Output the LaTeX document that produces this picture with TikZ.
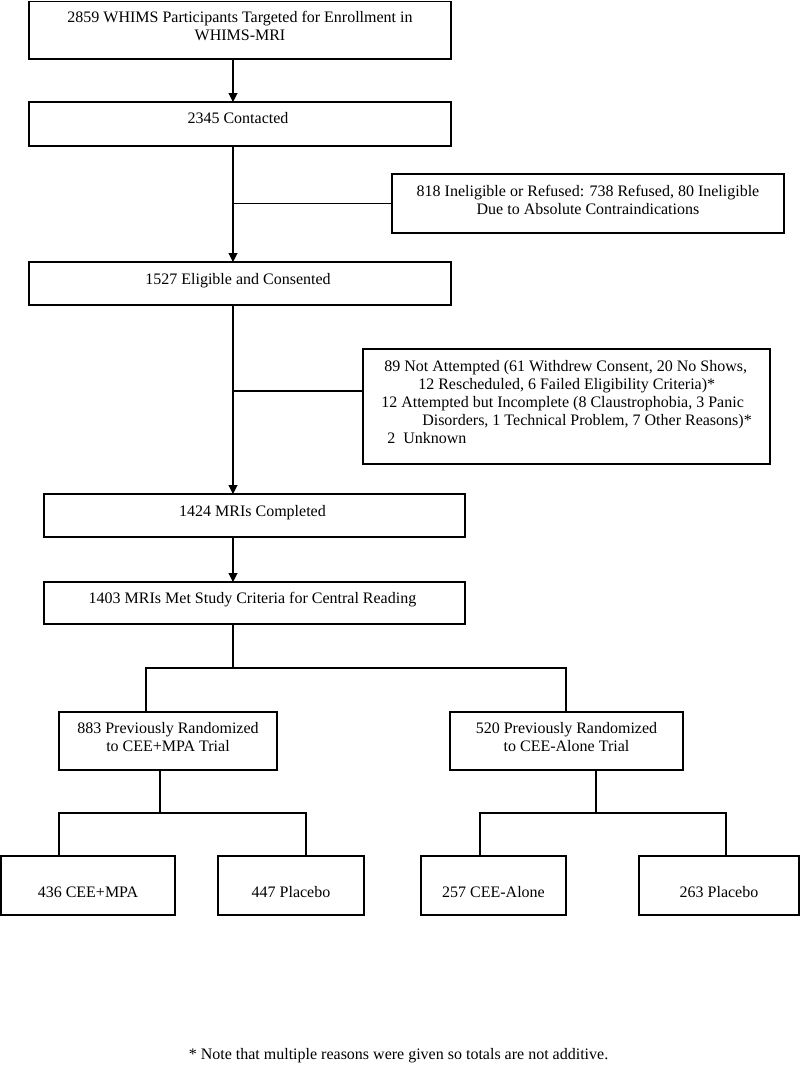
\documentclass[tikz,border=0pt]{standalone}
\usepackage{fontspec}
\setmainfont{Liberation Serif}
\usetikzlibrary{arrows.meta}

\begin{document}
\begin{tikzpicture}
      [x=1pt, y=-1pt,
       box/.style={
           draw=black, line width=1.1pt,
           inner sep=0pt, outer sep=0pt,
           align=center,
           font=\fontsize{16}{18}\selectfont
         },
       oneline/.style={box, text height=11pt, text depth=#1},
       twoline/.style={box, text height=29pt, text depth=#1},
       flow/.style={draw=black, line width=1.1pt},
       arrow/.style={flow, -{Triangle[length=9pt,width=9pt]}},
       ]
    \useasboundingbox (0,0) rectangle (800,1071);

    % main column
    \node [twoline=9pt, minimum width=422pt, minimum height=57.5pt] (target) at (240,30.25) {
      2859 WHIMS Participants Targeted for Enrollment in\\
      WHIMS-MRI
    };
    \node [oneline=13pt, minimum width=422pt, minimum height=44pt] (contacted) at (240,124) {
      2345 Contacted
    };
    \node [oneline=10pt, minimum width=422pt, minimum height=43pt] (eligible) at (240,283.5) {
      1527 Eligible and Consented
    };
    \node [oneline=10pt, minimum width=421pt, minimum height=43pt] (completed) at (254.5,515.5) {
      1424 MRIs Completed
    };
    \node [oneline=11pt, minimum width=421pt, minimum height=42pt] (reading) at (254.5,603) {
      1403 MRIs Met Study Criteria for Central Reading
    };

    % exclusions
    \node [twoline=8pt, minimum width=392pt, minimum height=59pt] (refused) at (588,203.5) {
      818 Ineligible or Refused: 738 Refused, 80 Ineligible\\
      Due to Absolute Contraindications
    };
    \node [box, text height=83pt, text depth=10pt, align=left, minimum width=407pt, minimum height=115pt] (notdone) at (566.5,406.5) {
      \hspace*{3pt}89 Not Attempted (61 Withdrew Consent, 20 No Shows,\\
      \hspace*{37pt}12 Rescheduled, 6 Failed Eligibility Criteria)*\\
      12 Attempted but Incomplete (8 Claustrophobia, 3 Panic\\
      \hspace*{41pt}Disorders, 1 Technical Problem, 7 Other Reasons)*\\
      \hspace*{6pt}2\ \ Unknown
    };

    % trials
    \node [twoline=8pt, minimum width=218pt, minimum height=58pt] (cempa) at (168,741) {
      883 Previously Randomized\\
      to CEE+MPA Trial
    };
    \node [twoline=8pt, minimum width=233pt, minimum height=58pt] (calone) at (566.5,741) {
      520 Previously Randomized\\
      to CEE-Alone Trial
    };

    % arms
    \node [box, text height=23pt, text depth=0pt, minimum width=174pt, minimum height=59pt] (armA) at (88,885.5) {436 CEE+MPA};
    \node [box, text height=23pt, text depth=0pt, minimum width=146pt, minimum height=59pt] (plA) at (291,885.5) {447 Placebo};
    \node [box, text height=23pt, text depth=0pt, minimum width=145pt, minimum height=59pt] (armB) at (493.5,885.5) {257 CEE-Alone};
    \node [box, text height=23pt, text depth=0pt, minimum width=160pt, minimum height=59pt] (plB) at (719,885.5) {263 Placebo};

    \node [font=\fontsize{16}{18}\selectfont] (note) at (398.5,1056) {* Note that multiple reasons were given so totals are not additive.};

    % junctions
    \coordinate (trunk) at (233,0);
    \coordinate (split) at (233,391);
    \coordinate (fork) at (233,668);
    \coordinate (dropA) at (146,668);
    \coordinate (dropB) at (566,668);
    \coordinate (forkA) at (160,813);
    \coordinate (legA1) at (59,813);
    \coordinate (legA2) at (306,813);
    \coordinate (forkB) at (596,813);
    \coordinate (legB1) at (480,813);
    \coordinate (legB2) at (726,813);

    \draw [arrow] (target.south -| trunk) -- (contacted.north -| trunk);
    \draw [arrow] (contacted.south -| trunk) -- (eligible.north -| trunk);
    \draw [flow] (trunk |- refused.west) -- (refused.west);
    \draw [arrow] (eligible.south -| trunk) -- (completed.north -| trunk);
    \draw [flow] (split) -- (split -| notdone.west);
    \draw [arrow] (completed.south -| trunk) -- (reading.north -| trunk);

    \draw [flow] (reading.south -| trunk) -- (fork);
    \draw [flow] (cempa.north -| dropA) -- (dropA) -- (dropB) -- (calone.north -| dropB);

    \draw [flow] (cempa.south -| forkA) -- (forkA);
    \draw [flow] (armA.north -| legA1) -- (legA1) -- (legA2) -- (plA.north -| legA2);
    \draw [flow] (calone.south -| forkB) -- (forkB);
    \draw [flow] (armB.north -| legB1) -- (legB1) -- (legB2) -- (plB.north -| legB2);

  \end{tikzpicture}
\end{document}
